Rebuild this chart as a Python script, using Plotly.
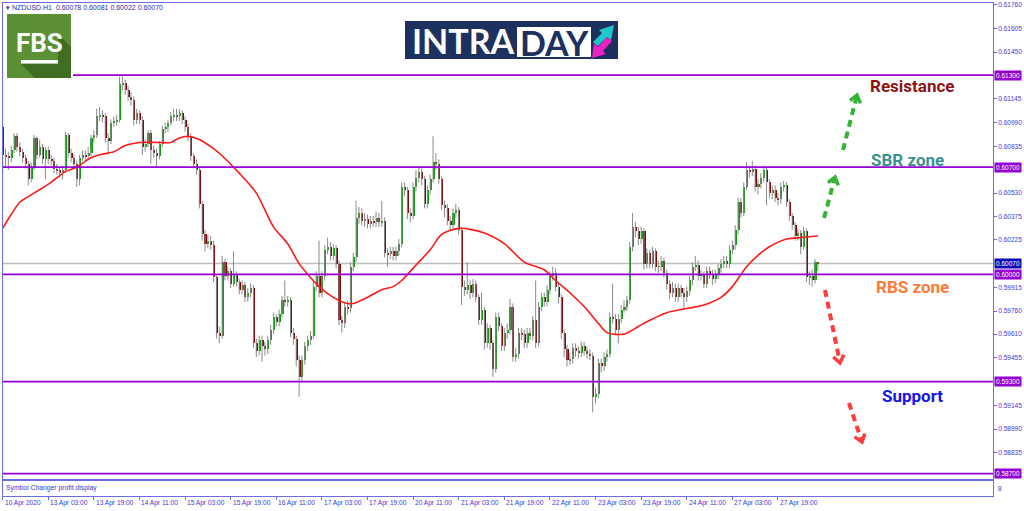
import plotly.graph_objects as go

W, H = 1024, 511


def px(x):
    return x / W


def py(y):
    return 1 - y / H


# ---------------- data (NZDUSD H1) ----------------
opens = [
    0.6096, 0.6078, 0.6077, 0.6076, 0.6081, 0.6090, 0.6083, 0.6080, 0.6076, 0.6072,
    0.6062, 0.6070, 0.6089, 0.6078, 0.6083, 0.6075, 0.6081, 0.6075, 0.6074, 0.6069,
    0.6068, 0.6066, 0.6068, 0.6091, 0.6079, 0.6076, 0.6072, 0.6062, 0.6076, 0.6078,
    0.6077, 0.6079, 0.6089, 0.6091, 0.6103, 0.6104, 0.6103, 0.6089, 0.6087, 0.6099,
    0.6100, 0.6101, 0.6124, 0.6125, 0.6120, 0.6116, 0.6114, 0.6101, 0.6105, 0.6101,
    0.6083, 0.6085, 0.6092, 0.6081, 0.6079, 0.6077, 0.6085, 0.6095, 0.6096, 0.6099,
    0.6103, 0.6104, 0.6103, 0.6105, 0.6101, 0.6096, 0.6090, 0.6077, 0.6072, 0.6068,
    0.6046, 0.6026, 0.6020, 0.6022, 0.6019, 0.5998, 0.5962, 0.5960, 0.6008, 0.5999,
    0.6002, 0.5994, 0.6000, 0.5995, 0.5990, 0.5993, 0.5985, 0.5988, 0.5991, 0.5955,
    0.5950, 0.5957, 0.5953, 0.5951, 0.5957, 0.5964, 0.5972, 0.5969, 0.5974, 0.5983,
    0.5982, 0.5983, 0.5962, 0.5958, 0.5944, 0.5933, 0.5944, 0.5953, 0.5957, 0.5960,
    0.5992, 0.5999, 0.5988, 0.5999, 0.6016, 0.6018, 0.6012, 0.6017, 0.6007, 0.5970,
    0.5968, 0.5979, 0.5978, 0.6005, 0.6011, 0.6037, 0.6040, 0.6035, 0.6036, 0.6033,
    0.6035, 0.6034, 0.6037, 0.6034, 0.6035, 0.6014, 0.6013, 0.6015, 0.6012, 0.6015,
    0.6020, 0.6057, 0.6055, 0.6040, 0.6038, 0.6057, 0.6063, 0.6067, 0.6062, 0.6046,
    0.6055, 0.6062, 0.6073, 0.6072, 0.6062, 0.6045, 0.6043, 0.6035, 0.6032, 0.6040,
    0.6042, 0.6029, 0.5992, 0.5990, 0.5993, 0.5988, 0.5994, 0.5985, 0.5970, 0.5977,
    0.5955, 0.5965, 0.5955, 0.5938, 0.5972, 0.5966, 0.5953, 0.5962, 0.5964, 0.5979,
    0.5946, 0.5948, 0.5962, 0.5961, 0.5955, 0.5962, 0.5960, 0.5970, 0.5955, 0.5979,
    0.5985, 0.5982, 0.5990, 0.5999, 0.6001, 0.5992, 0.5985, 0.5962, 0.5951, 0.5944,
    0.5945, 0.5952, 0.5950, 0.5949, 0.5953, 0.5950, 0.5948, 0.5947, 0.5920, 0.5922,
    0.5942, 0.5940, 0.5946, 0.5948, 0.5972, 0.5971, 0.5964, 0.5971, 0.5977, 0.5979,
    0.5983, 0.6018, 0.6031, 0.6028, 0.6023, 0.6028, 0.6007, 0.6014, 0.6007, 0.6015,
    0.6005, 0.6005, 0.6009, 0.6001, 0.5994, 0.5988, 0.5991, 0.5985, 0.5991, 0.5988,
    0.5985, 0.5989, 0.5996, 0.6005, 0.6006, 0.5999, 0.6000, 0.5994, 0.6002, 0.6000,
    0.5997, 0.6000, 0.6004, 0.6007, 0.6009, 0.6007, 0.6016, 0.6019, 0.6029, 0.6047,
    0.6040, 0.6057, 0.6068, 0.6067, 0.6069, 0.6057, 0.6059, 0.6063, 0.6068, 0.6060,
    0.6053, 0.6055, 0.6050, 0.6049, 0.6057, 0.6058, 0.6047, 0.6038, 0.6032, 0.6025,
    0.6027, 0.6018, 0.6028, 0.5998, 0.5999, 0.5996, 0.60078,
]
highs = [
    0.6098, 0.6082, 0.6080, 0.6084, 0.6092, 0.6092, 0.6086, 0.6082, 0.6078, 0.6074,
    0.6073, 0.6091, 0.6090, 0.6088, 0.6085, 0.6083, 0.6083, 0.6078, 0.6076, 0.6072,
    0.6070, 0.6071, 0.6093, 0.6092, 0.6082, 0.6078, 0.6074, 0.6078, 0.6081, 0.6081,
    0.6083, 0.6091, 0.6094, 0.6108, 0.6109, 0.6107, 0.6105, 0.6092, 0.6101, 0.6103,
    0.6104, 0.6129, 0.6130, 0.6127, 0.6123, 0.6119, 0.6116, 0.6108, 0.6107, 0.6103,
    0.6088, 0.6094, 0.6094, 0.6084, 0.6082, 0.6087, 0.6097, 0.6099, 0.6101, 0.6106,
    0.6108, 0.6108, 0.6108, 0.6107, 0.6103, 0.6098, 0.6092, 0.6079, 0.6075, 0.6070,
    0.6048, 0.6029, 0.6026, 0.6025, 0.6022, 0.6000, 0.5966, 0.6012, 0.6010, 0.6005,
    0.6004, 0.6015, 0.6002, 0.5997, 0.5996, 0.5995, 0.5991, 0.5994, 0.5993, 0.5958,
    0.5960, 0.5960, 0.5956, 0.5960, 0.5967, 0.5975, 0.5974, 0.5977, 0.5986, 0.5996,
    0.5986, 0.5985, 0.5965, 0.5960, 0.5947, 0.5947, 0.5956, 0.5960, 0.5963, 0.5995,
    0.6002, 0.6022, 0.6002, 0.6019, 0.6024, 0.6021, 0.6020, 0.6019, 0.6009, 0.5973,
    0.5982, 0.5983, 0.6008, 0.6014, 0.6048, 0.6044, 0.6043, 0.6040, 0.6039, 0.6038,
    0.6038, 0.6041, 0.6040, 0.6048, 0.6037, 0.6017, 0.6018, 0.6018, 0.6018, 0.6023,
    0.6060, 0.6060, 0.6057, 0.6043, 0.6060, 0.6068, 0.6070, 0.6069, 0.6064, 0.6058,
    0.6065, 0.6090, 0.6079, 0.6075, 0.6064, 0.6048, 0.6046, 0.6038, 0.6043, 0.6046,
    0.6044, 0.6031, 0.5996, 0.6008, 0.5996, 0.5997, 0.5996, 0.5987, 0.5988, 0.5979,
    0.5968, 0.5967, 0.5957, 0.5975, 0.5975, 0.5968, 0.5965, 0.5968, 0.5984, 0.5981,
    0.5952, 0.5965, 0.5965, 0.5964, 0.5965, 0.5965, 0.5973, 0.5996, 0.5982, 0.5988,
    0.5988, 0.5993, 0.6002, 0.6005, 0.6004, 0.5995, 0.5987, 0.5964, 0.5954, 0.5949,
    0.5955, 0.5955, 0.5953, 0.5956, 0.5956, 0.5953, 0.5951, 0.5949, 0.5926, 0.5945,
    0.5945, 0.5949, 0.5951, 0.5975, 0.5994, 0.5974, 0.5974, 0.5980, 0.5983, 0.5986,
    0.6021, 0.6040, 0.6034, 0.6031, 0.6031, 0.6030, 0.6017, 0.6016, 0.6018, 0.6017,
    0.6009, 0.6012, 0.6011, 0.6003, 0.5996, 0.5995, 0.5994, 0.5994, 0.5993, 0.5991,
    0.5992, 0.5999, 0.6008, 0.6012, 0.6009, 0.6003, 0.6002, 0.6005, 0.6005, 0.6003,
    0.6003, 0.6007, 0.6010, 0.6012, 0.6012, 0.6019, 0.6022, 0.6032, 0.6050, 0.6050,
    0.6060, 0.6073, 0.6071, 0.6074, 0.6071, 0.6062, 0.6066, 0.6071, 0.6070, 0.6062,
    0.6058, 0.6058, 0.6053, 0.6060, 0.6061, 0.6060, 0.6049, 0.6040, 0.6034, 0.6030,
    0.6029, 0.6031, 0.6030, 0.6002, 0.6003, 0.6010, 0.60081,
]
lows = [
    0.6066, 0.6070, 0.6068, 0.6073, 0.6079, 0.6080, 0.6077, 0.6073, 0.6069, 0.6058,
    0.6060, 0.6068, 0.6075, 0.6076, 0.6072, 0.6062, 0.6072, 0.6071, 0.6066, 0.6065,
    0.6063, 0.6062, 0.6066, 0.6076, 0.6073, 0.6069, 0.6057, 0.6058, 0.6074, 0.6074,
    0.6075, 0.6077, 0.6086, 0.6089, 0.6100, 0.6099, 0.6086, 0.6078, 0.6085, 0.6096,
    0.6097, 0.6099, 0.6120, 0.6117, 0.6113, 0.6110, 0.6097, 0.6098, 0.6098, 0.6078,
    0.6080, 0.6083, 0.6072, 0.6076, 0.6070, 0.6075, 0.6083, 0.6092, 0.6093, 0.6097,
    0.6100, 0.6100, 0.6100, 0.6098, 0.6093, 0.6087, 0.6074, 0.6069, 0.6065, 0.6043,
    0.6022, 0.6015, 0.6017, 0.6016, 0.5995, 0.5958, 0.5955, 0.5958, 0.5996, 0.5996,
    0.5991, 0.5992, 0.5992, 0.5987, 0.5987, 0.5982, 0.5982, 0.5985, 0.5952, 0.5946,
    0.5947, 0.5943, 0.5947, 0.5948, 0.5954, 0.5961, 0.5966, 0.5966, 0.5972, 0.5979,
    0.5979, 0.5959, 0.5954, 0.5940, 0.5920, 0.5930, 0.5941, 0.5950, 0.5954, 0.5958,
    0.5989, 0.5985, 0.5985, 0.5996, 0.6013, 0.6009, 0.6009, 0.6004, 0.5967, 0.5962,
    0.5965, 0.5974, 0.5975, 0.6002, 0.6008, 0.6033, 0.6032, 0.6031, 0.6030, 0.6030,
    0.6031, 0.6031, 0.6031, 0.6031, 0.6011, 0.6005, 0.6010, 0.6009, 0.6009, 0.6012,
    0.6018, 0.6051, 0.6036, 0.6034, 0.6036, 0.6054, 0.6060, 0.6058, 0.6043, 0.6043,
    0.6052, 0.6060, 0.6068, 0.6059, 0.6042, 0.6037, 0.6032, 0.6029, 0.6029, 0.6037,
    0.6026, 0.5980, 0.5986, 0.5987, 0.5984, 0.5985, 0.5982, 0.5967, 0.5967, 0.5951,
    0.5952, 0.5951, 0.5933, 0.5936, 0.5963, 0.5950, 0.5950, 0.5958, 0.5961, 0.5943,
    0.5943, 0.5945, 0.5957, 0.5952, 0.5952, 0.5957, 0.5957, 0.5952, 0.5953, 0.5976,
    0.5979, 0.5979, 0.5987, 0.5996, 0.5989, 0.5981, 0.5958, 0.5946, 0.5940, 0.5941,
    0.5942, 0.5946, 0.5945, 0.5946, 0.5947, 0.5945, 0.5944, 0.5910, 0.5916, 0.5919,
    0.5936, 0.5937, 0.5943, 0.5946, 0.5968, 0.5961, 0.5955, 0.5968, 0.5975, 0.5976,
    0.5981, 0.6015, 0.6024, 0.6019, 0.6020, 0.6003, 0.6004, 0.6004, 0.6004, 0.6002,
    0.6001, 0.6002, 0.5998, 0.5990, 0.5984, 0.5985, 0.5982, 0.5982, 0.5985, 0.5977,
    0.5982, 0.5986, 0.5993, 0.6002, 0.5996, 0.5996, 0.5991, 0.5991, 0.5997, 0.5993,
    0.5994, 0.5997, 0.6001, 0.6004, 0.6004, 0.6004, 0.6013, 0.6016, 0.6026, 0.6037,
    0.6038, 0.6055, 0.6063, 0.6064, 0.6054, 0.6052, 0.6056, 0.6060, 0.6045, 0.6050,
    0.6049, 0.6047, 0.6045, 0.6046, 0.6054, 0.6044, 0.6035, 0.6029, 0.6022, 0.6022,
    0.6013, 0.6016, 0.5995, 0.5993, 0.5992, 0.5994, 0.60022,
]
closes = [
    0.6078, 0.6077, 0.6076, 0.6081, 0.6090, 0.6083, 0.6080, 0.6076, 0.6072, 0.6062,
    0.6070, 0.6089, 0.6078, 0.6083, 0.6075, 0.6081, 0.6075, 0.6074, 0.6069, 0.6068,
    0.6066, 0.6068, 0.6091, 0.6079, 0.6076, 0.6072, 0.6062, 0.6076, 0.6078, 0.6077,
    0.6079, 0.6089, 0.6091, 0.6103, 0.6104, 0.6103, 0.6089, 0.6087, 0.6099, 0.6100,
    0.6101, 0.6124, 0.6125, 0.6120, 0.6116, 0.6114, 0.6101, 0.6105, 0.6101, 0.6083,
    0.6085, 0.6092, 0.6081, 0.6079, 0.6077, 0.6085, 0.6095, 0.6096, 0.6099, 0.6103,
    0.6104, 0.6103, 0.6105, 0.6101, 0.6096, 0.6090, 0.6077, 0.6072, 0.6068, 0.6046,
    0.6026, 0.6020, 0.6022, 0.6019, 0.5998, 0.5962, 0.5960, 0.6008, 0.5999, 0.6002,
    0.5994, 0.6000, 0.5995, 0.5990, 0.5993, 0.5985, 0.5988, 0.5991, 0.5955, 0.5950,
    0.5957, 0.5953, 0.5951, 0.5957, 0.5964, 0.5972, 0.5969, 0.5974, 0.5983, 0.5982,
    0.5983, 0.5962, 0.5958, 0.5944, 0.5933, 0.5944, 0.5953, 0.5957, 0.5960, 0.5992,
    0.5999, 0.5988, 0.5999, 0.6016, 0.6018, 0.6012, 0.6017, 0.6007, 0.5970, 0.5968,
    0.5979, 0.5978, 0.6005, 0.6011, 0.6037, 0.6040, 0.6035, 0.6036, 0.6033, 0.6035,
    0.6034, 0.6037, 0.6034, 0.6035, 0.6014, 0.6013, 0.6015, 0.6012, 0.6015, 0.6020,
    0.6057, 0.6055, 0.6040, 0.6038, 0.6057, 0.6063, 0.6067, 0.6062, 0.6046, 0.6055,
    0.6062, 0.6073, 0.6072, 0.6062, 0.6045, 0.6043, 0.6035, 0.6032, 0.6040, 0.6042,
    0.6029, 0.5992, 0.5990, 0.5993, 0.5988, 0.5994, 0.5985, 0.5970, 0.5977, 0.5955,
    0.5965, 0.5955, 0.5938, 0.5972, 0.5966, 0.5953, 0.5962, 0.5964, 0.5979, 0.5946,
    0.5948, 0.5962, 0.5961, 0.5955, 0.5962, 0.5960, 0.5970, 0.5955, 0.5979, 0.5985,
    0.5982, 0.5990, 0.5999, 0.6001, 0.5992, 0.5985, 0.5962, 0.5951, 0.5944, 0.5945,
    0.5952, 0.5950, 0.5949, 0.5953, 0.5950, 0.5948, 0.5947, 0.5920, 0.5922, 0.5942,
    0.5940, 0.5946, 0.5948, 0.5972, 0.5971, 0.5964, 0.5971, 0.5977, 0.5979, 0.5983,
    0.6018, 0.6031, 0.6028, 0.6023, 0.6028, 0.6007, 0.6014, 0.6007, 0.6015, 0.6005,
    0.6005, 0.6009, 0.6001, 0.5994, 0.5988, 0.5991, 0.5985, 0.5991, 0.5988, 0.5985,
    0.5989, 0.5996, 0.6005, 0.6006, 0.5999, 0.6000, 0.5994, 0.6002, 0.6000, 0.5997,
    0.6000, 0.6004, 0.6007, 0.6009, 0.6007, 0.6016, 0.6019, 0.6029, 0.6047, 0.6040,
    0.6057, 0.6068, 0.6067, 0.6069, 0.6057, 0.6059, 0.6063, 0.6068, 0.6060, 0.6053,
    0.6055, 0.6050, 0.6049, 0.6057, 0.6058, 0.6047, 0.6038, 0.6032, 0.6025, 0.6027,
    0.6018, 0.6028, 0.5998, 0.5999, 0.5996, 0.60078, 0.60070,
]
bar_index = list(range(len(closes)))

# moving average (red line), read at selected bars
ma_bar = [0, 3, 6, 11, 17, 22, 26, 31, 34, 39, 43, 48, 55, 59, 62, 65, 69, 74, 76,
          83, 89, 95, 100, 104, 108, 111, 116, 121, 123, 128, 133, 137, 140, 145,
          150, 154, 160, 169, 176, 183, 190, 194, 199, 204, 209, 212, 218, 223,
          227, 233, 246, 252, 256, 261, 266, 269, 275, 280, 286]
ma_val = [0.6030, 0.6039, 0.6047, 0.6053, 0.6060, 0.6067, 0.6070, 0.6076, 0.6078,
          0.6080, 0.6084, 0.6086, 0.6086, 0.6086, 0.6089, 0.6090, 0.6088, 0.6082,
          0.6079, 0.6066, 0.6053, 0.6031, 0.6020, 0.6007, 0.5998, 0.5992, 0.5985,
          0.5981, 0.5981, 0.5985, 0.5990, 0.5992, 0.5996, 0.6006, 0.6016, 0.6026,
          0.6030, 0.6027, 0.6020, 0.6008, 0.6003, 0.5996, 0.5988, 0.5979, 0.5968,
          0.5962, 0.5961, 0.5966, 0.5970, 0.5975, 0.5980, 0.5985, 0.5992, 0.6005,
          0.6014, 0.6018, 0.6023, 0.6024, 0.6025]

# horizontal levels
levels = [0.61300, 0.60700, 0.60000, 0.59300, 0.58700]
bid_price = 0.60070

# axis ticks
ytick_vals = [0.61760, 0.61605, 0.61450, 0.61145, 0.60990, 0.60835, 0.60530,
              0.60375, 0.60225, 0.59915, 0.59760, 0.59610, 0.59455, 0.59145,
              0.58990, 0.58835]
xtick_bars = [0, 16, 32, 48, 64, 80, 96, 112, 128, 144, 160, 176, 192, 208,
              224, 240, 256, 272]
xtick_labels = ["10 Apr 2020", "13 Apr 03:00", "13 Apr 19:00", "14 Apr 11:00",
                "15 Apr 03:00", "15 Apr 19:00", "16 Apr 11:00", "17 Apr 03:00",
                "17 Apr 19:00", "20 Apr 11:00", "21 Apr 03:00", "21 Apr 19:00",
                "22 Apr 11:00", "23 Apr 03:00", "23 Apr 19:00", "24 Apr 11:00",
                "27 Apr 03:00", "27 Apr 19:00"]

zone_labels = ["Resistance", "SBR zone", "RBS zone", "Support"]

# ---------------- styling ----------------
UP = "#139a13"
DOWN = "#7d0b0b"
WICK = "#8a8a8a"
PURPLE = "#9400d3"
AXBLUE = "#6b6be3"
TXTBLUE = "#3a3ad8"
FONT = "Liberation Sans"

X_RANGE = [-0.05, 347.45]
Y_RANGE = [0.58665, 0.61770]

fig = go.Figure()

# wicks
wx, wy = [], []
for i, lo, hi in zip(bar_index, lows, highs):
    wx += [i, i, None]
    wy += [lo, hi, None]
fig.add_trace(go.Scatter(x=wx, y=wy, mode="lines", line=dict(color=WICK, width=1),
                         hoverinfo="skip", showlegend=False, xaxis="x", yaxis="y"))

# bodies
body_base = [min(o, c) for o, c in zip(opens, closes)]
body_h = [max(abs(c - o), 0.000025) for o, c in zip(opens, closes)]
body_col = [UP if c >= o else DOWN for o, c in zip(opens, closes)]
fig.add_trace(go.Bar(x=bar_index, y=body_h, base=body_base, width=0.72,
                     marker=dict(color=body_col, line=dict(width=0)),
                     hoverinfo="skip", showlegend=False, xaxis="x", yaxis="y"))

# moving average
fig.add_trace(go.Scatter(x=ma_bar, y=ma_val, mode="lines",
                         line=dict(color="#ff1a1a", width=1.6, shape="spline", smoothing=0.8),
                         hoverinfo="skip", showlegend=False, xaxis="x", yaxis="y"))

# empty trace for the sub-window
fig.add_trace(go.Scatter(x=[None], y=[None], xaxis="x2", yaxis="y2", showlegend=False))

shapes = []
annotations = []

# bid line
shapes.append(dict(type="line", xref="paper", yref="y", x0=px(3), x1=px(993),
                   y0=bid_price, y1=bid_price, line=dict(color="#bdbdbd", width=1.5),
                   layer="below"))
# level lines
for k, lv in enumerate(levels):
    x0 = px(73) if k == 0 else px(3)
    shapes.append(dict(type="line", xref="paper", yref="y", x0=x0, x1=px(993),
                       y0=lv, y1=lv, line=dict(color=PURPLE, width=1.8)))
    annotations.append(dict(xref="paper", yref="y", x=px(993.5), y=lv, xanchor="left",
                            yanchor="middle", text=f"{lv:.5f}", showarrow=False,
                            bgcolor=PURPLE, borderpad=1,
                            font=dict(family=FONT, size=6.5, color="white")))
annotations.append(dict(xref="paper", yref="y", x=px(993.5), y=bid_price, xanchor="left",
                        yanchor="middle", text=f"{bid_price:.5f}", showarrow=False,
                        bgcolor="#0a0ab4", borderpad=1,
                        font=dict(family=FONT, size=6.5, color="white")))

# header
annotations.append(dict(xref="paper", yref="paper", x=px(4), y=py(7.5), xanchor="left",
                        yanchor="middle", showarrow=False,
                        text="▾ NZDUSD.H1  0.60078 0.60081 0.60022 0.60070",
                        font=dict(family=FONT, size=7, color="#2a2aa8")))
# sub window text
annotations.append(dict(xref="paper", yref="paper", x=px(4), y=py(487.5), xanchor="left",
                        yanchor="middle", showarrow=False, text="Symbol Changer profit display",
                        font=dict(family=FONT, size=6.8, color="#3a3ac8")))
annotations.append(dict(xref="paper", yref="paper", x=px(996), y=py(488), xanchor="left",
                        yanchor="middle", showarrow=False, text="8",
                        font=dict(family=FONT, size=6.5, color=TXTBLUE)))

# time labels
for b, lab in zip(xtick_bars, xtick_labels):
    annotations.append(dict(xref="x2", yref="paper", x=b, y=py(503), xanchor="left",
                            yanchor="middle", showarrow=False, text=lab,
                            font=dict(family=FONT, size=6.6, color=TXTBLUE)))

# zone labels
zone_pos = [(912, 86), (907, 160), (912, 287), (912, 396)]
zone_col = ["#8e1414", "#3d9090", "#ff7a38", "#1515ee"]
for t, (zx, zy), zc in zip(zone_labels, zone_pos, zone_col):
    annotations.append(dict(xref="paper", yref="paper", x=px(zx), y=py(zy),
                            xanchor="center", yanchor="middle", showarrow=False,
                            text=f"<b>{t}</b>", font=dict(family="Roboto", size=17, color=zc)))


# dashed arrows
def chevron(sx, sy, tx, ty, arm=9.0):
    dx, dy = tx - sx, ty - sy
    ln = (dx * dx + dy * dy) ** 0.5
    bx, by = -dx / ln, -dy / ln
    c, s = 0.80, 0.60
    a1 = (bx * c - by * s, bx * s + by * c)
    a2 = (bx * c + by * s, -bx * s + by * c)
    p1 = (tx + a1[0] * arm, ty + a1[1] * arm)
    p2 = (tx + a2[0] * arm, ty + a2[1] * arm)
    return (f"M {px(p1[0])} {py(p1[1])} L {px(tx)} {py(ty)} L {px(p2[0])} {py(p2[1])}",
            (tx - dx / ln * 3, ty - dy / ln * 3))


arrows = [((843, 150), (857, 95), "#36b336"), ((824, 218), (835, 177), "#36b336"),
          ((825, 290), (840, 363), "#ff3d3d"), ((849, 403), (862, 442), "#ff3d3d")]
for (sx, sy), (tx, ty), col in arrows:
    path, (ex, ey) = chevron(sx, sy, tx, ty)
    shapes.append(dict(type="line", xref="paper", yref="paper", x0=px(sx), y0=py(sy),
                       x1=px(ex), y1=py(ey), line=dict(color=col, width=4, dash="7px,5px")))
    shapes.append(dict(type="path", xref="paper", yref="paper", path=path,
                       line=dict(color=col, width=3.5)))


# FBS logo
def rect(x0, y0, x1, y1, color, line=None):
    return dict(type="rect", xref="paper", yref="paper", x0=px(x0), x1=px(x1),
                y0=py(y1), y1=py(y0), fillcolor=color,
                line=dict(width=0) if line is None else line, layer="above")


def poly(points, color):
    p = "M " + " L ".join(f"{px(a)} {py(b)}" for a, b in points) + " Z"
    return dict(type="path", xref="paper", yref="paper", path=p, fillcolor=color,
                line=dict(width=0), layer="above")


shapes.append(rect(7, 14, 71, 78, "#5b9134"))
shapes.append(poly([(58, 34), (71, 47), (71, 78), (35, 78), (21, 64), (58, 64)], "#3f6d22"))
shapes.append(rect(21, 60, 58, 63.5, "white"))
annotations.append(dict(xref="paper", yref="paper", x=px(39.5), y=py(43), xanchor="center",
                        yanchor="middle", showarrow=False, text="<b>FBS</b>",
                        font=dict(family="Roboto", size=26, color="white")))

# INTRADAY logo
shapes.append(rect(405, 21, 618, 59, "#1c315e"))
shapes.append(rect(517, 27, 591, 57, "white"))
shapes.append(poly([(593, 42), (602, 33), (599, 30), (614, 25), (611, 40), (607, 37), (598, 46)],
                   "#1ec8c8"))
shapes.append(poly([(612, 41), (603, 51), (606, 54), (592, 58), (594, 43), (598, 47), (607, 37)],
                   "#ee22c4"))
annotations.append(dict(xref="paper", yref="paper", x=px(463), y=py(41), xanchor="center",
                        yanchor="middle", showarrow=False, text="<b>INTRA</b>",
                        font=dict(family="Lato", size=34, color="white")))
annotations.append(dict(xref="paper", yref="paper", x=px(554), y=py(42), xanchor="center",
                        yanchor="middle", showarrow=False, text="<b>DAY</b>",
                        font=dict(family="Lato", size=34, color="#1c315e")))

fig.update_layout(
    width=W, height=H,
    margin=dict(l=0, r=0, t=0, b=0),
    paper_bgcolor="white", plot_bgcolor="white",
    barmode="overlay", bargap=0,
    showlegend=False,
    xaxis=dict(domain=[px(2.5), px(993)], range=X_RANGE, anchor="y",
               showgrid=False, zeroline=False, showticklabels=False, ticks="",
               showline=True, linecolor=AXBLUE, linewidth=1, mirror=True, fixedrange=True),
    yaxis=dict(domain=[py(479), py(3)], range=Y_RANGE, side="right", anchor="x",
               tickvals=ytick_vals, ticktext=[f"{v:.5f}" for v in ytick_vals],
               ticks="outside", ticklen=3, tickcolor=AXBLUE,
               tickfont=dict(family=FONT, size=6.5, color=TXTBLUE),
               showgrid=False, zeroline=False, automargin=False,
               showline=True, linecolor=AXBLUE, linewidth=1, mirror=True, fixedrange=True),
    xaxis2=dict(domain=[px(2.5), px(993)], range=X_RANGE, anchor="y2",
                tickvals=xtick_bars, ticks="outside", ticklen=3, tickcolor=AXBLUE,
                showticklabels=False, showgrid=False, zeroline=False,
                showline=True, linecolor=AXBLUE, linewidth=1, mirror=True, fixedrange=True),
    yaxis2=dict(domain=[py(496), py(481)], range=[0, 1], anchor="x2", side="right",
                showticklabels=False, ticks="", showgrid=False, zeroline=False,
                showline=True, linecolor=AXBLUE, linewidth=1, mirror=True, fixedrange=True),
    shapes=shapes,
    annotations=annotations,
)

fig.write_html("out.html", config={"displayModeBar": False},
               post_script="document.body.style.margin='0';document.body.style.overflow='hidden';")
